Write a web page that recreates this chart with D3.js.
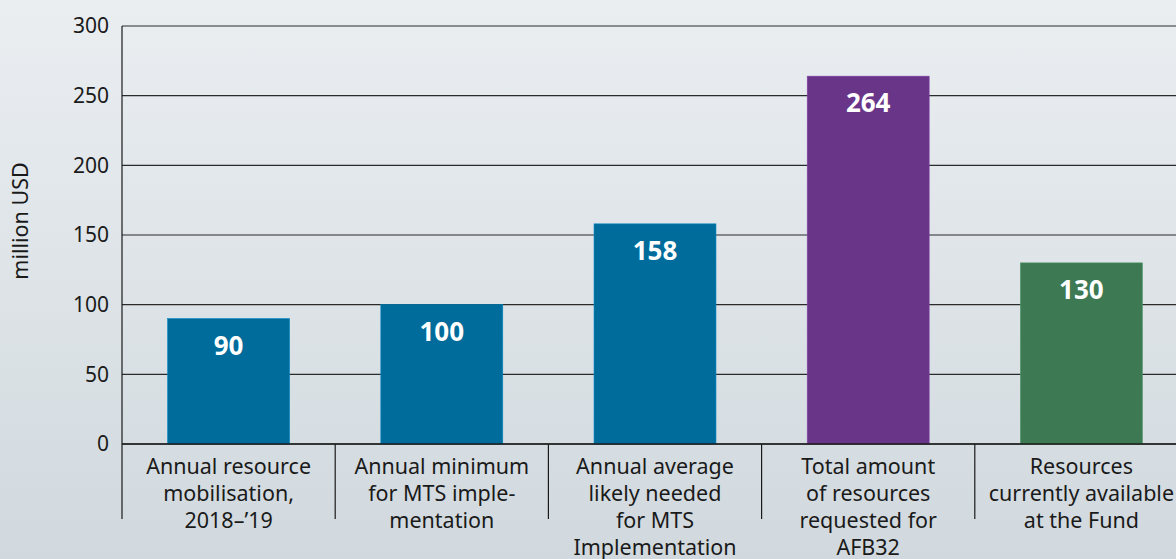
<!DOCTYPE html>
<html><head><meta charset="utf-8">
<script src="https://cdn.jsdelivr.net/npm/d3@7"></script>
<style>
html,body{margin:0;padding:0;width:1176px;height:559px;overflow:hidden;}
svg{display:block;}
text{font-family:"Source Sans Pro","Noto Sans",sans-serif;fill:#1a1a1a;}
</style></head><body>
<svg id="c" width="1176" height="559"></svg>
<script>
const categories = [
  ["Annual resource","mobilisation,","2018\u2013\u201919"],
  ["Annual minimum","for MTS imple-","mentation"],
  ["Annual average","likely needed","for MTS","Implementation"],
  ["Total amount","of resources","requested for","AFB32"],
  ["Resources","currently available","at the Fund"]
];
const values = [90, 100, 158, 264, 130];
const colors = ["#006c9b","#006c9b","#006c9b","#693589","#3d7952"];
const yTicks = [0, 50, 100, 150, 200, 250, 300];
const yTitle = "million USD";

const svg = d3.select("#c");
const defs = svg.append("defs");
const g0 = defs.append("linearGradient").attr("id","bg").attr("x1",0).attr("y1",0).attr("x2",0).attr("y2",1);
g0.append("stop").attr("offset","0%").attr("stop-color","#eaeef1");
g0.append("stop").attr("offset","100%").attr("stop-color","#d1d9de");
svg.append("rect").attr("width",1176).attr("height",559).attr("fill","url(#bg)");

const mL = 122, mR = 1188, mT = 26, mB = 444;
const x = d3.scaleBand().domain(d3.range(categories.length)).range([mL, mR]).padding(0);
const y = d3.scaleLinear().domain([0, 300]).range([mB, mT]);

// gridlines
svg.append("g").selectAll("line").data(yTicks).join("line")
  .attr("x1", mL).attr("x2", mR)
  .attr("y1", d => y(d)).attr("y2", d => y(d))
  .attr("stroke", "#2b2b2b").attr("stroke-width", 1.2);

// y tick labels
svg.append("g").selectAll("text").data(yTicks).join("text")
  .attr("x", 109).attr("y", d => y(d)).attr("dy", "0.35em")
  .attr("text-anchor", "end").attr("font-size", 21).text(d => d);

// y title
svg.append("text").attr("transform", `translate(28,221) rotate(-90)`)
  .attr("text-anchor","middle").attr("font-size", 21.5).text(yTitle);

// bars
const bw = x.bandwidth() * 0.572;
svg.append("g").selectAll("rect").data(values).join("rect")
  .attr("x", (d,i) => x(i) + (x.bandwidth() - bw)/2)
  .attr("width", bw)
  .attr("y", d => y(d))
  .attr("height", d => y(0) - y(d))
  .attr("fill", (d,i) => colors[i])
  .attr("stroke", (d,i) => d3.color(colors[i]).brighter(0.6))
  .attr("stroke-width", 0.6);

// value labels
svg.append("g").selectAll("text").data(values).join("text")
  .attr("x", (d,i) => x(i) + x.bandwidth()/2)
  .attr("y", d => y(d) + 36)
  .attr("text-anchor","middle").attr("font-size", 26).attr("font-weight","bold")
  .style("fill","#ffffff").text(d => d);

// baseline and left axis
svg.append("line").attr("x1", mL).attr("x2", mR).attr("y1", mB).attr("y2", mB)
  .attr("stroke","#1a1a1a").attr("stroke-width",1.5);
const dividers = d3.range(categories.length + 1).map(i => i < categories.length ? x(i) : mR);
svg.append("g").selectAll("line").data(dividers).join("line")
  .attr("x1", d => d).attr("x2", d => d)
  .attr("y1", d => d === mL ? mT : mB).attr("y2", 519)
  .attr("stroke","#1a1a1a").attr("stroke-width",1.2);

// category labels
const cl = svg.append("g").selectAll("text").data(categories).join("text")
  .attr("text-anchor","middle").attr("font-size", 21.5);
cl.each(function(lines, i){
  const t = d3.select(this);
  lines.forEach((ln, k) => {
    t.append("tspan").attr("x", x(i) + x.bandwidth()/2).attr("y", 474 + k*27).text(ln);
  });
});
</script>
</body></html>
